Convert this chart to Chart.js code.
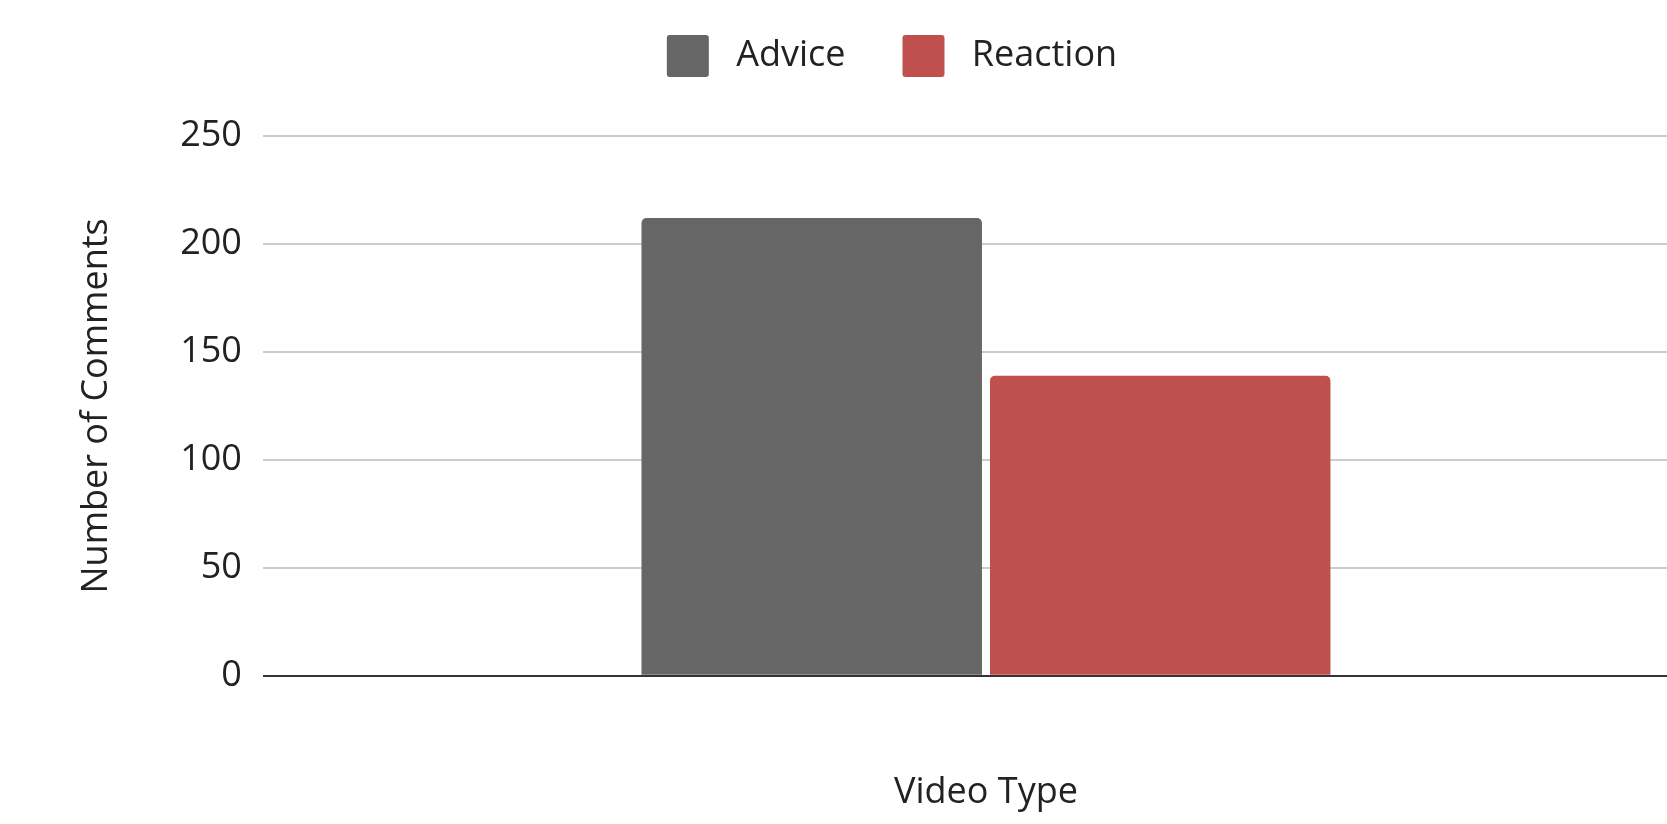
<!DOCTYPE html>
<html>
<head>
<meta charset="utf-8">
<title>Comments by Video Type</title>
<script src="https://cdn.jsdelivr.net/npm/chart.js@4.4.1/dist/chart.umd.min.js"></script>
<style>
    html, body { margin: 0; padding: 0; background: #fff; overflow: hidden; }
    #wrap { width: 1709px; height: 824px; }
</style>
</head>
<body>
<div id="wrap"><canvas id="commentsChart" width="1709" height="824"></canvas></div>
<script>
// Data
const categories = [''];
const adviceValues = [212];
const reactionValues = [139];
const seriesNames = ['Advice', 'Reaction'];
const yTicks = [0, 50, 100, 150, 200, 250];

const FONT = "'Open Sans', 'DejaVu Sans', sans-serif";
const TEXT_COLOR = '#222222';

// extra space under the legend
const legendMargin = {
    id: 'legendMargin',
    beforeInit(chart) {
        const origFit = chart.legend.fit;
        chart.legend.fit = function fit() {
            origFit.bind(chart.legend)();
            this.height += 49;
        };
    }
};

const ctx = document.getElementById('commentsChart');
new Chart(ctx, {
    type: 'bar',
    data: {
        labels: categories,
        datasets: [{
            label: seriesNames[0],
            data: adviceValues,
            backgroundColor: '#666666',
            borderRadius: 5,
            categoryPercentage: 0.482,
            barPercentage: 0.977
        }, {
            label: seriesNames[1],
            data: reactionValues,
            backgroundColor: '#c0504d',
            borderRadius: 5,
            categoryPercentage: 0.482,
            barPercentage: 0.977
        }]
    },
    options: {
        responsive: false,
        animation: false,
        layout: {
            padding: { top: -22, left: 75, right: 0, bottom: 0 }
        },
        plugins: {
            legend: {
                position: 'top',
                labels: {
                    boxWidth: 42,
                    boxHeight: 42,
                    padding: 57,
                    color: TEXT_COLOR,
                    font: { family: FONT, size: 36 },
                    generateLabels(chart) {
                        const items = Chart.defaults.plugins.legend.labels.generateLabels(chart);
                        items.forEach(item => {
                            item.text = ' ' + item.text;
                            item.borderRadius = 3;
                            item.lineWidth = 0;
                        });
                        return items;
                    }
                }
            },
            tooltip: { enabled: false }
        },
        scales: {
            x: {
                grid: { display: false, drawTicks: false },
                border: { display: false },
                ticks: { display: false },
                title: {
                    display: true,
                    text: 'Video Type',
                    color: TEXT_COLOR,
                    font: { family: FONT, size: 36 },
                    padding: { top: 95, bottom: 10 }
                }
            },
            y: {
                min: yTicks[0],
                max: yTicks[yTicks.length - 1],
                afterBuildTicks(scale) {
                    scale.ticks = yTicks.map(v => ({ value: v }));
                },
                grid: {
                    drawTicks: false,
                    lineWidth: 2,
                    color: (c) => c.tick && c.tick.value === 0 ? '#333333' : '#cccccc'
                },
                border: { display: false },
                ticks: {
                    padding: 21,
                    color: TEXT_COLOR,
                    font: { family: FONT, size: 36 }
                },
                title: {
                    display: true,
                    text: 'Number of Comments',
                    color: TEXT_COLOR,
                    font: { family: FONT, size: 36 },
                    padding: { top: 0, bottom: 41 }
                }
            }
        }
    },
    plugins: [legendMargin]
});
</script>
</body>
</html>
